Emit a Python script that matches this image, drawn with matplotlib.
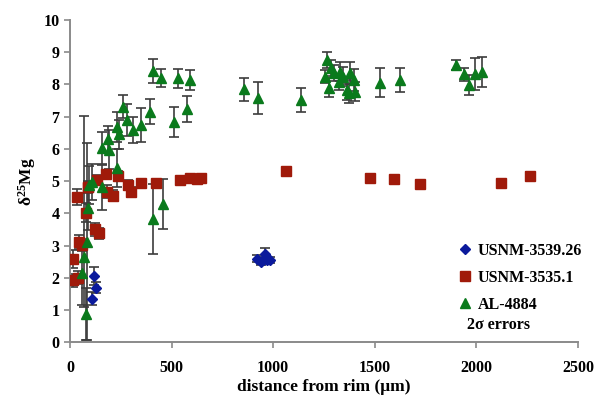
import matplotlib
matplotlib.use("Agg")
import matplotlib.pyplot as plt
from matplotlib.lines import Line2D

plt.rcParams["font.family"] = ["Liberation Serif", "DejaVu Serif"]
plt.rcParams["font.weight"] = "bold"
plt.rcParams["mathtext.fontset"] = "custom"
plt.rcParams["mathtext.rm"] = "Liberation Serif:bold"
plt.rcParams["mathtext.bf"] = "Liberation Serif:bold"
plt.rcParams["mathtext.it"] = "Liberation Serif:bold:italic"

# USNM-3539.26 (blue diamonds)
blue_x = [120, 130, 110, 920, 940, 950, 960, 970, 985]
blue_y = [2.05, 1.70, 1.35, 2.60, 2.50, 2.55, 2.75, 2.55, 2.55]
blue_err = [0.28, 0.17, 0.2, 0.1, 0.1, 0.1, 0.18, 0.1, 0.1]

# USNM-3535.1 (red squares)
red_x = [13, 13, 40, 35, 44, 57, 79, 123, 143, 87, 90, 134, 177, 180, 210,
         238, 284, 300, 351, 422, 542, 591, 624, 647, 1064, 1478, 1594, 1721,
         2120, 2266]
red_y = [2.58, 1.93, 2.00, 4.50, 3.10, 3.02, 4.02, 3.50, 3.38, 4.82, 4.83, 5.03,
         5.21, 4.67, 4.55, 5.16, 4.88, 4.67, 4.93, 4.93, 5.04, 5.10, 5.06, 5.10,
         5.30, 5.10, 5.07, 4.92, 4.95, 5.17]
red_err = [0.27, 0.2, 0.2, 0.25, 0.22, 0.2, 0.3, 0.2, 0.18, 0.2, 0.15, 0.15,
           0.15, 0.2, 0.18, 0.15, 0.15, 0.15, 0.1, 0.1, 0.1, 0.1, 0.1, 0.1,
           0.1, 0.1, 0.1, 0.1, 0.1, 0.1]

# AL-4884 (green triangles)
green_x = [70, 85, 79, 59, 90, 94, 110, 156, 156, 194, 189, 230, 241, 230,
           260, 281, 312, 350, 394, 411, 407, 460, 448, 512, 530, 575, 591,
           854, 923, 1136, 1264, 1284, 1256, 1273, 1297, 1330, 1322, 1346,
           1379, 1363, 1371, 1396, 1404, 1527, 1626, 1901, 1938, 1966, 1995,
           2028]
green_y = [2.66, 3.12, 0.88, 2.16, 4.17, 4.88, 4.97, 4.81, 6.02, 5.98, 6.30,
           5.41, 6.45, 6.68, 7.31, 6.90, 6.59, 6.74, 7.16, 8.42, 3.83, 4.29,
           8.19, 6.84, 8.19, 7.25, 8.14, 7.85, 7.59, 7.52, 8.76, 8.50, 8.24,
           7.90, 8.35, 8.40, 8.09, 8.24, 8.35, 7.83, 7.72, 8.14, 7.78, 8.06,
           8.14, 8.60, 8.32, 7.98, 8.32, 8.38]
green_lo = [1.55, 3.05, 0.8, 1.0, 0.7, 0.6, 0.55, 0.7, 0.5, 0.6, 0.42, 0.6,
            0.45, 0.45, 0.35, 0.5, 0.41, 0.52, 0.38, 0.37, 1.08, 0.77, 0.28,
            0.47, 0.3, 0.4, 0.3, 0.35, 0.5, 0.38, 0.24, 0.25, 0.2, 0.3, 0.25,
            0.3, 0.25, 0.3, 0.35, 0.3, 0.3, 0.35, 0.3, 0.45, 0.38, 0.15, 0.2,
            0.3, 0.5, 0.47]
green_hi = [4.37, 3.05, 0.8, 1.0, 0.7, 0.6, 0.55, 0.7, 0.5, 0.6, 0.42, 0.6,
            0.45, 0.45, 0.35, 0.5, 0.41, 0.52, 0.38, 0.37, 1.08, 0.77, 0.28,
            0.47, 0.3, 0.4, 0.3, 0.35, 0.5, 0.38, 0.24, 0.25, 0.2, 0.3, 0.25,
            0.3, 0.25, 0.3, 0.35, 0.3, 0.3, 0.35, 0.3, 0.45, 0.38, 0.15, 0.2,
            0.3, 0.5, 0.47]

BLUE = "#0b1a9c"
RED = "#a01a0a"
GREEN = "#0a7a1c"
ERR = "#3c3c3c"

fig = plt.figure(figsize=(5.95, 3.96), dpi=100)
ax = fig.add_axes([0.1176, 0.1356, 0.8538, 0.8139])

ebar = dict(fmt="none", ecolor=ERR, elinewidth=1.2, capsize=3.5, capthick=1.2)
ax.errorbar(green_x, green_y, yerr=[green_lo, green_hi], zorder=2, **ebar)
ax.errorbar(red_x, red_y, yerr=red_err, zorder=2, **ebar)
ax.errorbar(blue_x, blue_y, yerr=blue_err, zorder=2, **ebar)

ax.plot(blue_x, blue_y, "D", color=BLUE, markersize=5, linestyle="none", zorder=3)
ax.plot(red_x, red_y, "s", color=RED, markersize=6.5, linestyle="none", zorder=3)
ax.plot(green_x, green_y, "^", color=GREEN, markersize=7.5, linestyle="none", zorder=4)

ax.set_xlim(0, 2500)
ax.set_ylim(0, 10)
ax.set_xticks(range(0, 2501, 500))
ax.set_yticks(range(0, 11))

for side in ["top", "right"]:
    ax.spines[side].set_visible(False)
for side in ["left", "bottom"]:
    ax.spines[side].set_color("#8a8a8a")
    ax.spines[side].set_linewidth(1.4)
ax.tick_params(axis="both", colors="#8a8a8a", length=4, width=1.2,
               labelcolor="black", labelsize=11.5)
ax.tick_params(axis="x", pad=9)
for lab in ax.get_xticklabels() + ax.get_yticklabels():
    lab.set_fontweight("bold")

ax.set_xlabel("distance from rim (μm)", fontsize=12.5, fontweight="bold", labelpad=2)
ax.set_ylabel(r"δ$^{25}$Mg", fontsize=12.5, fontweight="bold", labelpad=4)

handles = [
    Line2D([], [], marker="D", color=BLUE, linestyle="none", markersize=5),
    Line2D([], [], marker="s", color=RED, linestyle="none", markersize=6.5),
    Line2D([], [], marker="^", color=GREEN, linestyle="none", markersize=6.5),
]
ax.legend(handles, ["USNM-3539.26", "USNM-3535.1", "AL-4884"],
          loc="upper left", bbox_to_anchor=(0.746, 0.334), frameon=False,
          borderpad=0, handlelength=1.0, handletextpad=0.3, labelspacing=0.7,
          prop={"family": "Liberation Serif", "weight": "bold", "size": 11.5})
ax.text(0.781, 0.054, "2σ errors", transform=ax.transAxes, fontsize=11.5,
        fontweight="bold", va="center", ha="left")

fig.savefig("out.png", dpi=100)
